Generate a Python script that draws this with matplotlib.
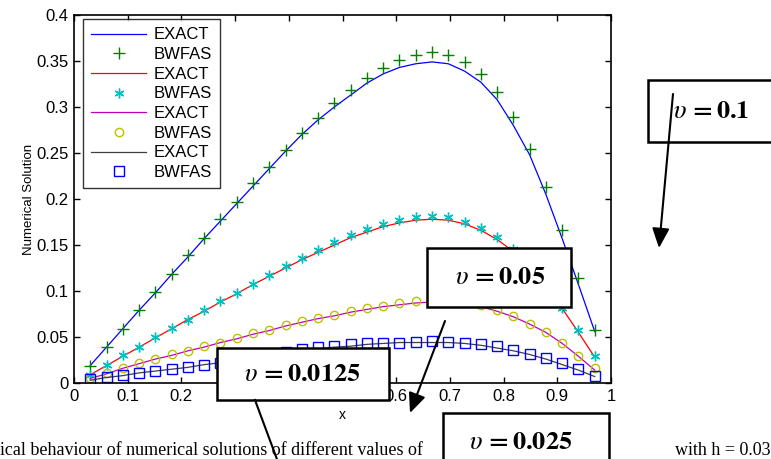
import matplotlib
matplotlib.use('Agg')
import matplotlib.pyplot as plt
from matplotlib.patches import Rectangle

plt.rcParams['font.family'] = ['Liberation Sans', 'DejaVu Sans']
plt.rcParams['mathtext.fontset'] = 'stix'

# grid points
x_pts = [0.0303, 0.0606, 0.0909, 0.1212, 0.1515, 0.1818, 0.2121, 0.2424,
         0.2727, 0.3030, 0.3333, 0.3636, 0.3939, 0.4242, 0.4545, 0.4848,
         0.5152, 0.5455, 0.5758, 0.6061, 0.6364, 0.6667, 0.6970, 0.7273,
         0.7576, 0.7879, 0.8182, 0.8485, 0.8788, 0.9091, 0.9394, 0.9697]

# nu = 0.1
exact_1 = [0.019, 0.039, 0.059, 0.079, 0.098, 0.118, 0.137, 0.157, 0.176,
           0.195, 0.214, 0.233, 0.252, 0.270, 0.286, 0.300, 0.313, 0.326,
           0.336, 0.343, 0.347, 0.349, 0.347, 0.339, 0.327, 0.308, 0.280,
           0.248, 0.205, 0.157, 0.107, 0.056]
bwfas_1 = [0.019, 0.039, 0.059, 0.079, 0.099, 0.118, 0.139, 0.158, 0.178,
           0.197, 0.217, 0.235, 0.253, 0.272, 0.288, 0.304, 0.319, 0.332,
           0.342, 0.351, 0.357, 0.360, 0.356, 0.349, 0.336, 0.316, 0.289,
           0.254, 0.213, 0.166, 0.114, 0.058]
# nu = 0.05
exact_2 = [0.009, 0.019, 0.029, 0.039, 0.049, 0.059, 0.069, 0.078, 0.088,
           0.097, 0.107, 0.116, 0.125, 0.134, 0.142, 0.150, 0.158, 0.164,
           0.170, 0.174, 0.177, 0.178, 0.177, 0.173, 0.166, 0.156, 0.143,
           0.127, 0.106, 0.081, 0.055, 0.028]
bwfas_2 = [0.009, 0.020, 0.030, 0.039, 0.050, 0.060, 0.069, 0.079, 0.089,
           0.098, 0.108, 0.117, 0.127, 0.136, 0.145, 0.153, 0.161, 0.167,
           0.173, 0.177, 0.180, 0.181, 0.180, 0.175, 0.169, 0.159, 0.146,
           0.130, 0.108, 0.082, 0.058, 0.029]
# nu = 0.025
exact_3 = [0.005, 0.010, 0.016, 0.021, 0.026, 0.030, 0.035, 0.039, 0.044,
           0.048, 0.053, 0.057, 0.062, 0.066, 0.070, 0.073, 0.077, 0.080,
           0.083, 0.085, 0.087, 0.088, 0.088, 0.086, 0.083, 0.078, 0.072,
           0.064, 0.055, 0.043, 0.029, 0.014]
bwfas_3 = [0.005, 0.011, 0.016, 0.022, 0.026, 0.031, 0.035, 0.040, 0.044,
           0.049, 0.054, 0.058, 0.063, 0.067, 0.071, 0.074, 0.078, 0.081,
           0.084, 0.087, 0.089, 0.090, 0.090, 0.088, 0.085, 0.079, 0.073,
           0.064, 0.055, 0.043, 0.029, 0.016]
# nu = 0.0125
exact_4 = [0.003, 0.006, 0.008, 0.011, 0.013, 0.015, 0.017, 0.020, 0.022,
           0.025, 0.027, 0.030, 0.033, 0.035, 0.037, 0.039, 0.040, 0.042,
           0.043, 0.044, 0.044, 0.044, 0.044, 0.043, 0.041, 0.038, 0.035,
           0.031, 0.026, 0.020, 0.014, 0.007]
bwfas_4 = [0.004, 0.006, 0.009, 0.011, 0.013, 0.015, 0.017, 0.020, 0.022,
           0.025, 0.028, 0.031, 0.034, 0.037, 0.039, 0.040, 0.042, 0.043,
           0.044, 0.044, 0.045, 0.046, 0.045, 0.044, 0.042, 0.040, 0.036,
           0.031, 0.027, 0.022, 0.015, 0.008]

x_ticks = [0, 0.1, 0.2, 0.3, 0.4, 0.5, 0.6, 0.7, 0.8, 0.9, 1]
x_labels = ['0', '0.1', '0.2', '0.3', '0.4', '0.5', '0.6', '0.7', '0.8', '0.9', '1']
y_ticks = [0, 0.05, 0.1, 0.15, 0.2, 0.25, 0.3, 0.35, 0.4]
y_labels = ['0', '0.05', '0.1', '0.15', '0.2', '0.25', '0.3', '0.35', '0.4']

W, H = 771, 459
fig = plt.figure(figsize=(W / 100, H / 100), dpi=100)
ax = fig.add_axes([74 / W, 1 - 383 / H, 537 / W, 368 / H])

ax.plot(x_pts, exact_1, color=(0, 0, 1), lw=0.9, label='EXACT')
ax.plot(x_pts, bwfas_1, ls='none', marker='+', ms=8, mew=1.0,
        color=(0, 0.5, 0), label='BWFAS')
ax.plot(x_pts, exact_2, color=(1, 0, 0), lw=0.9, label='EXACT')
ax.plot(x_pts, bwfas_2, ls='none', marker=(6, 2, 0), ms=7, mew=1.0,
        color=(0, 0.75, 0.75), label='BWFAS')
ax.plot(x_pts, exact_3, color=(0.75, 0, 0.75), lw=0.9, label='EXACT')
ax.plot(x_pts, bwfas_3, ls='none', marker='o', ms=6, mew=1.0, mfc='none',
        color=(0.75, 0.75, 0), label='BWFAS')
ax.plot(x_pts, exact_4, color=(0.25, 0.25, 0.25), lw=0.9, label='EXACT')
ax.plot(x_pts, bwfas_4, ls='none', marker='s', ms=6.5, mew=1.0, mfc='none',
        color=(0, 0, 1), label='BWFAS')

ax.set_xlim(0, 1)
ax.set_ylim(0, 0.4)
ax.set_xticks(x_ticks)
ax.set_xticklabels(x_labels)
ax.set_yticks(y_ticks)
ax.set_yticklabels(y_labels)
ax.tick_params(direction='in', top=True, right=True, length=4, width=1,
               labelsize=12, pad=4)
for s in ax.spines.values():
    s.set_linewidth(1.2)
ax.set_xlabel('x', fontsize=10, labelpad=3)
ax.set_ylabel('Numerical Solution', fontsize=9.5, labelpad=1)

leg = ax.legend(loc='upper left', bbox_to_anchor=(9 / 537, 1 - 4 / 368),
                fontsize=12, frameon=True, fancybox=False, edgecolor='black',
                handlelength=3.3, handletextpad=0.45, labelspacing=0.28,
                borderpad=0.5, borderaxespad=0)
leg.get_frame().set_linewidth(1.0)

# annotation overlay in pixel units
ov = fig.add_axes([0, 0, 1, 1], zorder=5)
ov.set_xlim(0, W)
ov.set_ylim(H, 0)
ov.axis('off')
ov.patch.set_alpha(0)

ov.text(0, 459, 'ical behaviour of numerical solutions of different values of',
        family='Liberation Serif', fontsize=13, ha='left', va='bottom')
ov.text(771, 459, 'with h = 0.03', family='Liberation Serif', fontsize=13,
        ha='right', va='bottom')

boxes = [
    (648, 80, 140, 62),
    (427, 248, 144, 59),
    (217, 348, 172, 52),
    (443, 413, 166, 60),
]
box_text = [r'$\upsilon\mathbf{\,=0.1}$', r'$\upsilon\mathbf{\,=0.05}$',
            r'$\upsilon\mathbf{\,=0.0125}$', r'$\upsilon\mathbf{\,=0.025}$']
text_pos = [(711, 111), (500, 277), (302, 374), (521, 442)]

for (bx, by, bw, bh), t, (tx, ty) in zip(boxes, box_text, text_pos):
    ov.add_patch(Rectangle((bx, by), bw, bh, facecolor='white',
                           edgecolor='black', lw=1.8, clip_on=False))
    ov.text(tx, ty, t, fontsize=19, ha='center', va='center')

arrow = dict(arrowstyle='-|>,head_length=0.8,head_width=0.35',
             color='black', lw=1.5, mutation_scale=15, shrinkA=0, shrinkB=0)
ov.annotate('', xy=(659, 248), xytext=(673, 94), arrowprops=arrow)
ov.annotate('', xy=(410, 413), xytext=(445, 321), arrowprops=arrow)
ov.plot([255, 278], [400, 462], color='black', lw=1.5, clip_on=False)

fig.savefig('out.png', dpi=100)
